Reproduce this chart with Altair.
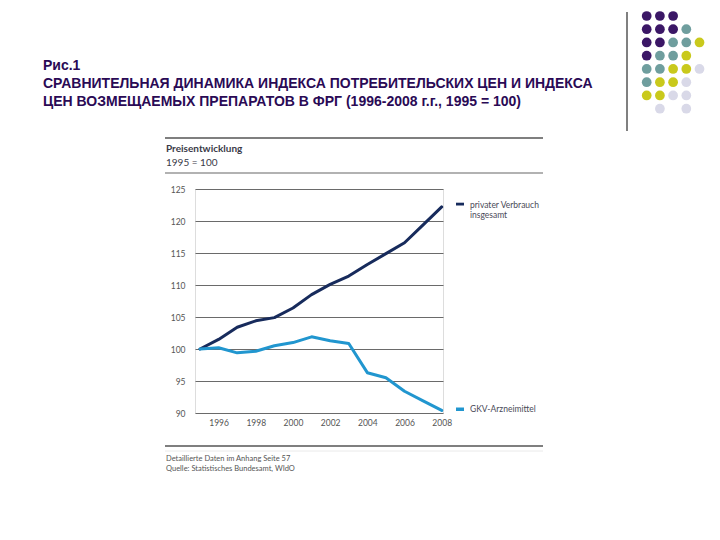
import altair as alt
import pandas as pd

# ---- data ----
years = list(range(1995, 2009))
priv = [100.0, 101.5, 103.4, 104.4, 104.9, 106.4, 108.5, 110.1, 111.4, 113.2, 114.9, 116.6, 119.4, 122.2]
gkv = [100.0, 100.2, 99.4, 99.65, 100.5, 101.0, 101.9, 101.3, 100.85, 96.3, 95.5, 93.4, 91.9, 90.4]
series_names = ["privater Verbrauch insgesamt", "GKV-Arzneimittel"]
y_ticks = [90, 95, 100, 105, 110, 115, 120, 125]
x_ticks = [1996, 1998, 2000, 2002, 2004, 2006, 2008]

# decorative dot grid (row, column, colour group)
dot_rows = [0, 0, 0,
            1, 1, 1, 1,
            2, 2, 2, 2, 2,
            3, 3, 3, 3,
            4, 4, 4, 4, 4,
            5, 5, 5, 5,
            6, 6, 6, 6,
            7, 7]
dot_cols = [0, 1, 2,
            0, 1, 2, 3,
            0, 1, 2, 3, 4,
            0, 1, 2, 3,
            0, 1, 2, 3, 4,
            0, 1, 2, 3,
            0, 1, 2, 3,
            1, 3]
dot_groups = ["p", "p", "p",
              "p", "p", "p", "t",
              "p", "p", "t", "t", "y",
              "p", "t", "t", "y",
              "t", "t", "y", "y", "l",
              "t", "y", "y", "l",
              "y", "y", "l", "l",
              "l", "l"]

df = pd.DataFrame({
    "year": years * 2,
    "value": priv + gkv,
    "series": [series_names[0]] * len(years) + [series_names[1]] * len(years),
})
dots = pd.DataFrame({"row": dot_rows, "col": dot_cols, "grp": dot_groups})
one = pd.DataFrame({"k": [0]})

DARK = "#172b5c"
LIGHT = "#2196cf"
FONT = "Lato"

lines = alt.Chart(df).mark_line(strokeWidth=3, strokeCap="round", strokeJoin="round").encode(
    x=alt.X("year:Q", scale=alt.Scale(domain=[1994.73, 2008.07], nice=False, zero=False),
            axis=alt.Axis(values=x_ticks, format="d", title=None, grid=False, domain=False,
                          ticks=False, tickSize=0, labelPadding=5, labelFont=FONT,
                          labelFontSize=8.5, labelColor="#555555")),
    y=alt.Y("value:Q", scale=alt.Scale(domain=[90, 125], nice=False, zero=False),
            axis=alt.Axis(values=y_ticks, title=None, grid=True, gridColor="#6a6a6a",
                          gridWidth=1, domain=False, ticks=False, tickSize=0,
                          labelPadding=10, labelFont=FONT, labelFontSize=8.5,
                          labelColor="#555555")),
    color=alt.Color("series:N", scale=alt.Scale(domain=series_names, range=[DARK, LIGHT]),
                    legend=None),
    detail="series:N",
)

def txt(s, x, y, size, color, weight="normal", font=FONT):
    return alt.Chart(one).mark_text(text=s, align="left", baseline="middle", fontSize=size,
                                    color=color, fontWeight=weight, font=font).encode(
        x=alt.value(x), y=alt.value(y))

def hrule(x1, x2, y, color, w):
    return alt.Chart(one).mark_rule(color=color, strokeWidth=w).encode(
        x=alt.value(x1), x2=alt.value(x2), y=alt.value(y))

def box(x1, x2, y1, y2, color):
    return alt.Chart(one).mark_rect(color=color).encode(
        x=alt.value(x1), x2=alt.value(x2), y=alt.value(y1), y2=alt.value(y2))

TITLE_C = "#2a0a55"
layers = [
    lines,
    txt("Рис.1", -152, -123, 14, TITLE_C, "bold", "Liberation Sans"),
    txt("СРАВНИТЕЛЬНАЯ ДИНАМИКА ИНДЕКСА ПОТРЕБИТЕЛЬСКИХ ЦЕН И ИНДЕКСА", -152, -105, 14, TITLE_C, "bold", "Liberation Sans"),
    txt("ЦЕН ВОЗМЕЩАЕМЫХ ПРЕПАРАТОВ В ФРГ (1996-2008 г.г., 1995 = 100)", -152, -87, 14, TITLE_C, "bold", "Liberation Sans"),
    hrule(-30, 348, -51, "#555555", 1.5),
    txt("Preisentwicklung", -29, -40, 10, "#3a3a48", "bold"),
    txt("1995 = 100", -29, -26, 10, "#3a3a48"),
    hrule(-30, 348, -16, "#666666", 1.2),
    hrule(-30, 348, 257, "#555555", 1.5),
    hrule(-30, 348, 262, "#e4e4e4", 0.8),
    txt("Detaillierte Daten im Anhang Seite 57", -29, 270, 7.5, "#555555"),
    txt("Quelle: Statistisches Bundesamt, WIdO", -29, 280, 7.5, "#555555"),
    box(261, 269, 13.7, 16.5, DARK),
    txt("privater Verbrauch", 275, 16, 8.5, "#4a4a58"),
    txt("insgesamt", 275, 26, 8.5, "#4a4a58"),
    box(261, 269, 218.5, 222, LIGHT),
    txt("GKV-Arzneimittel", 275, 220, 8.5, "#4a4a58"),
    alt.Chart(one).mark_rule(color="#808080", strokeWidth=2).encode(
        x=alt.value(432), y=alt.value(-177), y2=alt.value(-58)),
    alt.Chart(dots).mark_circle(size=95, opacity=1).encode(
        x=alt.X("col:Q", scale=alt.Scale(domain=[0, 4], range=[451.7, 504.5]), axis=None),
        y=alt.Y("row:Q", scale=alt.Scale(domain=[0, 7], range=[-173, -80.3]), axis=None),
        color=alt.Color("grp:N", scale=alt.Scale(domain=["p", "t", "y", "l"],
                        range=["#3b1766", "#6f9e9e", "#c9c91c", "#d9d9e8"]), legend=None),
    ),
]

chart = alt.layer(*layers).resolve_scale(x="independent", y="independent", color="independent").properties(
    width=248, height=224,
    padding={"left": 187, "top": 181, "right": 269, "bottom": 119},
    autosize=alt.AutoSizeParams(type="none"),
).configure_view(stroke=None).configure(background="white")

chart.save("out.html", embed_options={"renderer": "svg", "actions": False})
